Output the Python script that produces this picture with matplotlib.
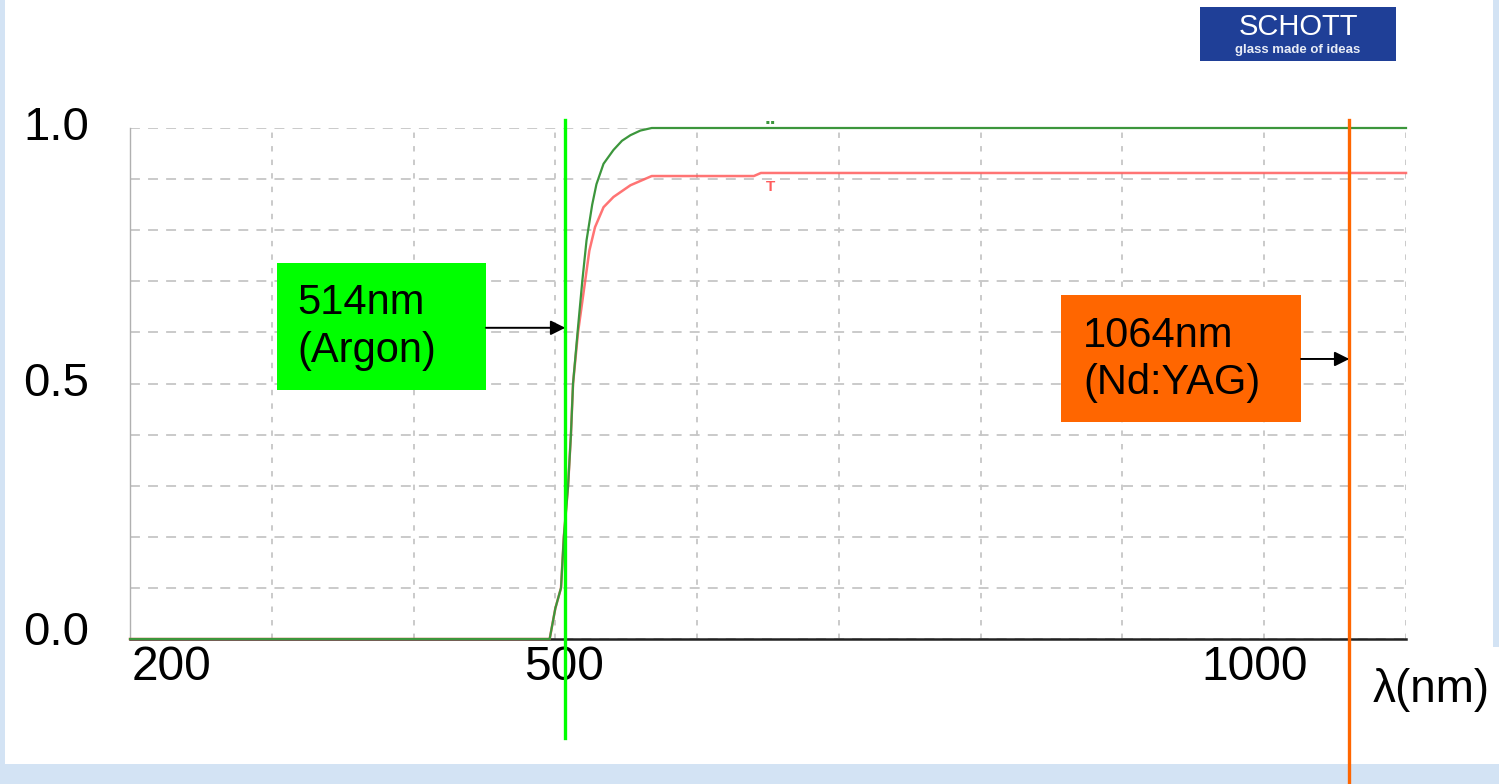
import matplotlib
matplotlib.use("Agg")
import matplotlib.pyplot as plt
from matplotlib.patches import Rectangle
from matplotlib.transforms import ScaledTranslation, blended_transform_factory

plt.rcParams['font.family'] = ['Liberation Sans', 'DejaVu Sans']

# ---- data ----
wl_green = [200, 496, 500, 504, 506, 509, 511, 512.5, 516, 519, 522, 526,
            529, 534, 541, 547, 553, 560, 568, 600, 700, 800, 900, 1000, 1100]
T_green = [0.0, 0.0, 0.06, 0.10, 0.20, 0.30, 0.40, 0.50, 0.61, 0.70, 0.78, 0.85,
           0.89, 0.93, 0.957, 0.975, 0.986, 0.995, 1.0, 1.0, 1.0, 1.0, 1.0, 1.0, 1.0]

wl_red = [200, 496, 500, 504, 506, 509, 511, 512.5, 516, 521, 524, 528,
          534, 541, 553, 568, 600, 640, 645, 700, 800, 900, 1000, 1100]
T_red = [0.0, 0.0, 0.06, 0.10, 0.20, 0.30, 0.40, 0.50, 0.60, 0.70, 0.76, 0.806,
         0.845, 0.865, 0.888, 0.906, 0.906, 0.906, 0.912, 0.912, 0.912, 0.912, 0.912, 0.912]

laser_pos_nm = [507, 1060]
laser_labels = ["514nm\n(Argon)", "1064nm\n(Nd:YAG)"]
laser_colors = ["#00ff00", "#ff6600"]
arrow_T = [0.609, 0.548]

x_grid = [200, 300, 400, 500, 600, 700, 800, 900, 1000, 1100]
x_ticklabels = {200: "200", 500: "500", 1000: "1000"}
y_grid = [0.0, 0.1, 0.2, 0.3, 0.4, 0.5, 0.6, 0.7, 0.8, 0.9, 1.0]
y_ticklabels = {0.0: "0.0", 0.5: "0.5", 1.0: "1.0"}

W, H = 1499, 784
fig = plt.figure(figsize=(W / 100, H / 100), dpi=100)
fig.patch.set_facecolor("#d3e3f4")

def px(x0, y0, w, h):
    return (x0 / W, 1 - (y0 + h) / H, w / W, h / H)

# white slide panel
for (x0, y0, w, h) in [(5, 0, 1488, 764), (1490, 647, 9, 117)]:
    l, b, ww, hh = px(x0, y0, w, h)
    fig.patches.append(Rectangle((l, b), ww, hh, transform=fig.transFigure,
                                 facecolor="white", edgecolor="none", zorder=-10))

# SCHOTT logo
l, b, ww, hh = px(1200, 7, 196, 54)
fig.patches.append(Rectangle((l, b), ww, hh, transform=fig.transFigure,
                             facecolor="#1f3f97", edgecolor="none", zorder=-5))
fig.text((1200 + 98) / W, 1 - 35 / H, "SCHOTT", color="white", fontsize=21,
         ha="center", va="baseline", zorder=2)
fig.text((1200 + 98) / W, 1 - 50 / H, "glass made of ideas", color="#e8ecf6",
         fontsize=9.5, fontweight="bold", ha="center", va="center", zorder=2)

ax = fig.add_axes(px(130, 128, 1276, 511))
ax.set_zorder(5)
ax.set_facecolor("none")
ax.set_xlim(200, 1100)
ax.set_ylim(0, 1.0)

# grid
ax.set_xticks(x_grid)
ax.set_yticks(y_grid)
ax.set_xticklabels([])
ax.set_yticklabels([])
ax.tick_params(length=0)
ax.grid(axis="x", color="#c6c6c6", linestyle=(0, (3, 4.5)), linewidth=1.3)
ax.grid(axis="y", color="#c6c6c6", linestyle=(0, (5.5, 4.5)), linewidth=1.3)
ax.set_axisbelow(True)

for s in ["top", "right"]:
    ax.spines[s].set_visible(False)
ax.spines["left"].set_color("#b0b0b0")
ax.spines["left"].set_linewidth(1.0)
ax.spines["bottom"].set_color("#222222")
ax.spines["bottom"].set_linewidth(1.8)

# curves
ax.plot(wl_red, T_red, color="#ff5c5c", lw=1.8, zorder=4, clip_on=False, alpha=0.85)
ax.plot(wl_green, T_green, color="#3c963c", lw=1.6, zorder=4, clip_on=False)
ax.text(652, 1.008, "..", color="#3c963c", fontsize=15, ha="center", va="baseline",
        fontweight="bold")
ax.text(652, 0.885, "T", color="#ff5c5c", fontsize=11, ha="center", va="center",
        fontweight="bold")

# tick labels
xt = blended_transform_factory(ax.transData, ax.transAxes)
x_offsets = {200: (2, "left"), 500: (9, "center"), 1000: (-10, "center")}
for v, lab in x_ticklabels.items():
    dx, ha = x_offsets[v]
    ax.text(v, 0, lab, transform=xt + ScaledTranslation(dx / 100, -29 / 100, fig.dpi_scale_trans),
            fontsize=34.5, ha=ha, va="center")
yt = blended_transform_factory(ax.transAxes, ax.transData)
for v, lab in y_ticklabels.items():
    dy = 6 if v == 0.0 else 0
    ax.text(0, v, lab, transform=yt + ScaledTranslation(-41 / 100, dy / 100, fig.dpi_scale_trans),
            fontsize=34, ha="right", va="center")
fig.text(1431 / W, 1 - 690 / H, "\u03bb(nm)", fontsize=33, ha="center", va="center")

# laser lines
line_ext = [(-0.194, 1.016), (-0.32, 1.016)]
for xpos, col, (y0, y1) in zip(laser_pos_nm, laser_colors, line_ext):
    ax.plot([xpos, xpos], [y0, y1], color=col, lw=2.4, zorder=5, clip_on=False)

# label boxes (axes-fraction layout)
boxes = [(0.1152, 0.487, 0.1638, 0.249), (0.7296, 0.4247, 0.1881, 0.2483)]
text_x = [0.1309, 0.7469]
text_y = [0.611, 0.547]
for (bx, by, bw, bh), col, lab, tx, ty, xpos, ay in zip(
        boxes, laser_colors, laser_labels, text_x, text_y, laser_pos_nm, arrow_T):
    ax.add_patch(Rectangle((bx, by), bw, bh, transform=ax.transAxes, facecolor=col,
                           edgecolor="none", zorder=6))
    ax.text(tx, ty, lab, transform=ax.transAxes, fontsize=30, ha="left", va="center",
            linespacing=1.25, zorder=7)
    ax.annotate("", xy=(xpos, ay), xycoords="data",
                xytext=(bx + bw, ay), textcoords=("axes fraction", "data"),
                arrowprops=dict(arrowstyle="-|>", color="black", lw=1.4,
                                mutation_scale=22, shrinkA=0, shrinkB=0),
                zorder=7)

fig.savefig("out.png", dpi=100, facecolor=fig.get_facecolor())
